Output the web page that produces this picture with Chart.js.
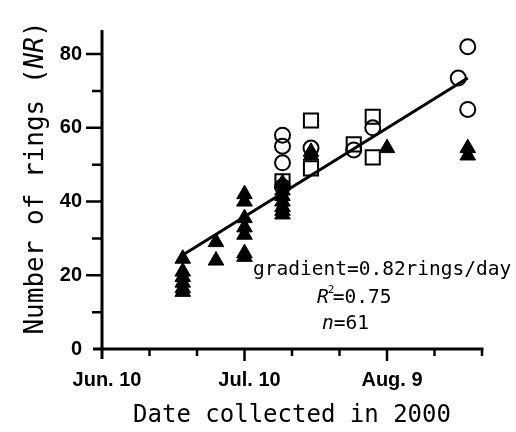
<!DOCTYPE html>
<html>
<head>
<meta charset="utf-8">
<script src="https://cdn.jsdelivr.net/npm/chart.js@4.4.0/dist/chart.umd.min.js"></script>
<style>
html,body{margin:0;padding:0;background:#fff;}
#wrap{width:516px;height:432px;}
</style>
</head>
<body>
<div id="wrap"><canvas id="myChart" width="516" height="432"></canvas></div>
<script>
// x = days after Jun. 10, 2000 ; y = number of rings
const triDays  = [17,17,17,17,17,17, 24,24, 30,30,30,30,30,30,30, 38,38,38,38,38,38,38, 44,44, 60, 77,77];
const triRings = [24.5,21,19.5,18,16.5,15.5, 29,24, 42,40,35.5,33,31,26,25, 45,43,41.5,40,38.5,37.5,36.5, 53.5,52.5, 54.5, 54.5,52.5];

const cirDays  = [38,38,38,38, 44, 53, 57, 75, 77,77];
const cirRings = [58,55,50.5,44, 54.5, 54, 60, 73.5, 82,65];

const sqDays  = [38, 44,44, 53, 57,57];
const sqRings = [45.5, 62,49, 55.5, 63,52];

// regression line ends
const fitDays  = [17, 77];
const fitRings = [25.5, 73.5];

const xTickLabels = {0: 'Jun. 10', 30: 'Jul. 10', 60: 'Aug. 9'};
const yTickLabels = [0, 20, 40, 60, 80];

function pts(xs, ys) {
    return xs.map((x, i) => ({x: x, y: ys[i]}));
}

const MONO = "'DejaVu Sans Mono', 'Liberation Mono', monospace";

const axesPlugin = {
    id: 'axesPlugin',
    afterDraw(chart) {
        const ctx = chart.ctx;
        const xs = chart.scales.x, ys = chart.scales.y;
        const x0 = xs.getPixelForValue(0);
        const y0 = ys.getPixelForValue(0);
        ctx.save();
        ctx.strokeStyle = '#000';
        ctx.lineCap = 'butt';
        // axis lines
        ctx.lineWidth = 3;
        ctx.beginPath();
        ctx.moveTo(x0, chart.chartArea.top - 2);
        ctx.lineTo(x0, y0 + 10);
        ctx.moveTo(x0 - 9, y0);
        ctx.lineTo(xs.getPixelForValue(80) + 1.5, y0);
        ctx.stroke();
        // x ticks
        ctx.lineWidth = 2.5;
        ctx.beginPath();
        for (let d = 10; d <= 80; d += 10) {
            const px = xs.getPixelForValue(d);
            const len = (d % 30 === 0) ? 12 : 7;
            ctx.moveTo(px, y0);
            ctx.lineTo(px, y0 + len);
        }
        // y ticks
        for (let v = 10; v <= 80; v += 10) {
            const py = ys.getPixelForValue(v);
            const len = (v % 20 === 0) ? 16 : 10;
            ctx.moveTo(x0, py);
            ctx.lineTo(x0 - len, py);
        }
        ctx.stroke();

        // y title with italic NR
        ctx.fillStyle = '#000';
        ctx.translate(36, 178);
        ctx.rotate(-Math.PI / 2);
        ctx.textBaseline = 'middle';
        const parts = [['Number of rings (', 'normal'], ['NR', 'italic'], [')', 'normal']];
        let total = 0;
        parts.forEach(p => { ctx.font = p[1] + ' 26px ' + MONO; total += ctx.measureText(p[0]).width; });
        let cx = -total / 2;
        parts.forEach(p => {
            ctx.font = p[1] + ' 26px ' + MONO;
            ctx.fillText(p[0], cx, 0);
            cx += ctx.measureText(p[0]).width;
        });
        ctx.restore();

        // annotation
        ctx.save();
        ctx.fillStyle = '#000';
        ctx.textBaseline = 'middle';
        ctx.font = '19.5px ' + MONO;
        ctx.fillText('gradient=0.82rings/day', 253, 270);
        ctx.font = 'italic 19.5px ' + MONO;
        ctx.fillText('R', 317, 298);
        let w = ctx.measureText('R').width;
        ctx.font = '11px ' + MONO;
        ctx.fillText('2', 317 + w - 1, 290);
        ctx.font = '19.5px ' + MONO;
        ctx.fillText('=0.75', 317 + w + 4, 298);
        ctx.font = 'italic 19.5px ' + MONO;
        ctx.fillText('n', 322, 324);
        w = ctx.measureText('n').width;
        ctx.font = '19.5px ' + MONO;
        ctx.fillText('=61', 322 + w, 324);
        ctx.restore();
    }
};

const data = {
    datasets: [
        {
            type: 'line',
            label: 'fit',
            data: pts(fitDays, fitRings),
            borderColor: '#000',
            borderWidth: 3,
            pointRadius: 0,
            fill: false
        },
        {
            label: 'triangle',
            data: pts(triDays, triRings),
            pointStyle: 'triangle',
            pointRadius: 9,
            backgroundColor: '#000',
            borderColor: '#000',
            borderWidth: 1
        },
        {
            label: 'circle',
            data: pts(cirDays, cirRings),
            pointStyle: 'circle',
            pointRadius: 7.5,
            backgroundColor: 'rgba(0,0,0,0)',
            borderColor: '#000',
            borderWidth: 2
        },
        {
            label: 'square',
            data: pts(sqDays, sqRings),
            pointStyle: 'rect',
            pointRadius: 10,
            backgroundColor: 'rgba(0,0,0,0)',
            borderColor: '#000',
            borderWidth: 2
        }
    ]
};

const config = {
    type: 'scatter',
    data: data,
    options: {
        responsive: false,
        animation: false,
        layout: {padding: {top: 14, right: 34, left: 0, bottom: 0}},
        plugins: {legend: {display: false}, tooltip: {enabled: false}},
        scales: {
            x: {
                type: 'linear',
                min: 0,
                max: 80,
                afterFit: (scale) => { scale.height = 83; },
                grid: {display: false, drawTicks: false},
                border: {display: false},
                ticks: {
                    stepSize: 10,
                    includeBounds: false,
                    autoSkip: false,
                    maxRotation: 0,
                    padding: 19,
                    labelOffset: 5,
                    color: '#000',
                    font: {family: "'Liberation Sans', Arial, sans-serif", size: 20, weight: 'bold'},
                    callback: (v) => xTickLabels[v] || ''
                },
                title: {
                    display: true,
                    text: 'Date collected in 2000',
                    color: '#000',
                    font: {family: MONO, size: 24},
                    padding: {top: 0, bottom: 2}
                }
            },
            y: {
                type: 'linear',
                min: 0,
                max: 86,
                afterFit: (scale) => { scale.width = 102; },
                grid: {display: false, drawTicks: false},
                border: {display: false},
                ticks: {
                    stepSize: 10,
                    includeBounds: false,
                    autoSkip: false,
                    padding: 20,
                    color: '#000',
                    font: {family: "'Liberation Sans', Arial, sans-serif", size: 20, weight: 'bold'},
                    callback: (v) => yTickLabels.includes(v) ? String(v) : ''
                }
            }
        }
    },
    plugins: [axesPlugin]
};

const myChart = new Chart(document.getElementById('myChart'), config);
</script>
</body>
</html>
